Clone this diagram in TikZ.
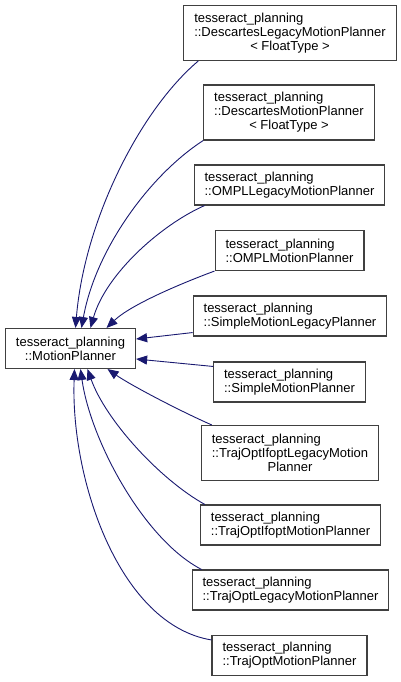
\documentclass[tikz,border=0pt]{standalone}
\usepackage{fontspec}
\setmainfont{Liberation Sans}
\usetikzlibrary{arrows.meta}
\definecolor{edgeblue}{RGB}{25,25,112}
\definecolor{boxgray}{RGB}{64,64,64}

\begin{document}
\begin{tikzpicture}[
  x=1pt,y=-1pt,
  cls/.style={draw=boxgray,line width=1.1pt,fill=white,align=left,inner xsep=10.5pt,inner ysep=0pt,font=\fontsize{13}{14}\selectfont},
  two/.style={cls,minimum height=40pt},
  three/.style={cls,minimum height=55pt},
  inh/.style={draw=edgeblue,line width=0.9pt,-{Triangle[length=11pt,width=9pt]}}
]
\useasboundingbox (0,0) rectangle (401,682);

% base class
\node[two,align=center] (mp) at (70.5,348.5) {tesseract\_planning\\::MotionPlanner};

% derived classes
\node[three] (dl) at (290,33) {tesseract\_planning\\::DescartesLegacyMotionPlanner\\\hfill< FloatType >\hfill\null};
\node[three] (dd) at (289,112.5) {tesseract\_planning\\::DescartesMotionPlanner\\\hfill< FloatType >\hfill\null};
\node[two] (ol) at (289.5,185) {tesseract\_planning\\::OMPLLegacyMotionPlanner};
\node[two] (om) at (289.5,250.5) {tesseract\_planning\\::OMPLMotionPlanner};
\node[two] (sl) at (290,316) {tesseract\_planning\\::SimpleMotionLegacyPlanner};
\node[two] (sm) at (289.5,382) {tesseract\_planning\\::SimpleMotionPlanner};
\node[three] (tl) at (290,453) {tesseract\_planning\\::TrajOptIfoptLegacyMotion\\\hfill Planner\hfill\null};
\node[two] (ti) at (290.5,525) {tesseract\_planning\\::TrajOptIfoptMotionPlanner};
\node[two] (tg) at (290.5,590) {tesseract\_planning\\::TrajOptLegacyMotionPlanner};
\node[two] (to) at (289.5,655.5) {tesseract\_planning\\::TrajOptMotionPlanner};

% inheritance arrows
\draw[inh] ([xshift=15]dl.south west) .. controls +(-58,49) and +(9,-108) .. ([xshift=5]mp.north);
\draw[inh] (dd.south west) .. controls +(-54,35) and +(14,-78) .. ([xshift=11]mp.north);
\draw[inh] ([xshift=11]ol.south west) .. controls +(-45,20) and +(15,-53) .. ([xshift=20]mp.north);
\draw[inh] (om.south west) .. controls +(-35,13) and +(24,-23) .. ([xshift=36]mp.north);
\draw[inh] ([yshift=4]sl.south west) -- ([yshift=9.5]mp.east);
\draw[inh] ([yshift=-5]sm.north west) -- ([yshift=-10.5]mp.east);
\draw[inh] ([xshift=11]tl.north west) .. controls +(-32,-14) and +(23,16) .. ([xshift=37]mp.south);
\draw[inh] ([xshift=5]ti.north west) .. controls +(-45,-25) and +(18,51) .. ([xshift=17]mp.south);
\draw[inh] ([xshift=10]tg.north west) .. controls +(-58,-30) and +(10,71) .. ([xshift=10]mp.south);
\draw[inh] ([yshift=-5]to.north west) .. controls +(-92,-15) and +(-4,111) .. ([xshift=4]mp.south);
\end{tikzpicture}
\end{document}
